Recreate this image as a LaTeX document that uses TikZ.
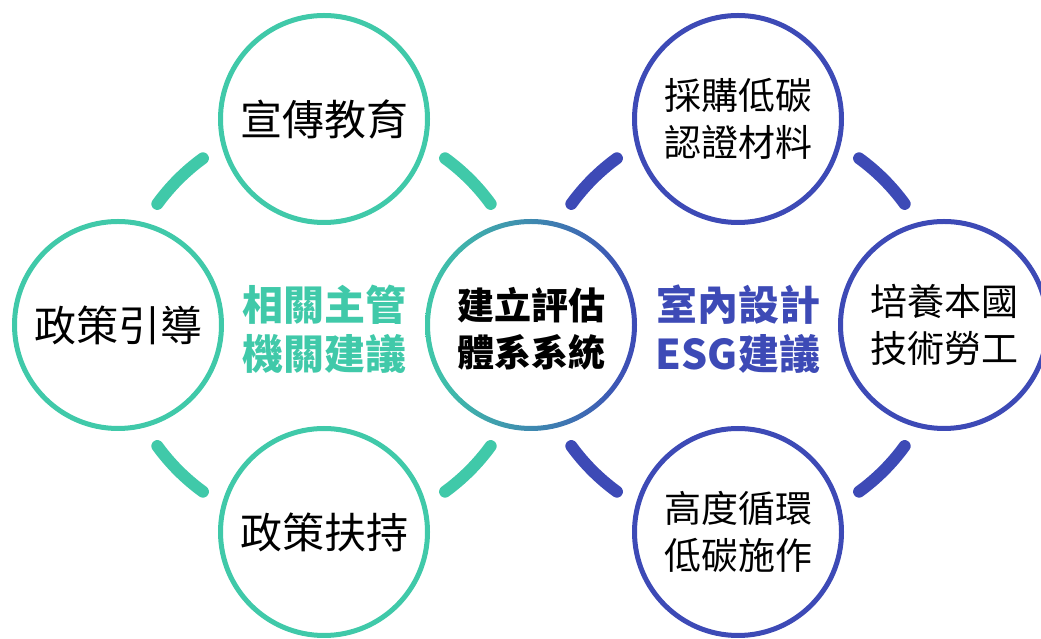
\documentclass[tikz,border=0pt]{standalone}
\usepackage{fontspec}
\setmainfont{Noto Sans CJK TC}
\usepackage{tikz}
\usetikzlibrary{calc}
\definecolor{mint}{HTML}{40C9A9}
\definecolor{indigo}{HTML}{3D4AB6}

\begin{document}
\begin{tikzpicture}[x=1pt, y=1pt,
  ring/.style={circle, draw, line width=5pt, minimum size=207pt, inner sep=0pt,
    align=center, font=\fontsize{42}{50}\selectfont},
  ringtwo/.style={ring, font=\fontsize{37}{47}\selectfont},
  link/.style={line width=12pt, line cap=round},
  tag/.style={align=center, font=\bfseries\fontsize{41}{49}\selectfont}]
  \useasboundingbox (0,0) rectangle (1041,639);

  \coordinate (L) at (324,314);
  \coordinate (R) at (738,314);
  \coordinate (C) at ($(L)!0.5!(R)$);

  \node[ring, draw=mint] (promo) at ($(L)+(0,206)$) {宣傳教育};
  \node[ring, draw=mint] (guide) at ($(L)+(-206,0)$) {政策引導};
  \node[ring, draw=mint] (support) at ($(L)+(0,-207)$) {政策扶持};
  \node[tag, text=mint] (agency) at ($(L)+(0,-4)$) {相關主管\\機關建議};

  \node[ringtwo, draw=indigo] (buy) at ($(R)+(0,206)$) {採購低碳\\認證材料};
  \node[ringtwo, draw=indigo] (labor) at ($(R)+(206,0)$) {培養本國\\技術勞工};
  \node[ringtwo, draw=indigo] (cycle) at ($(R)+(0,-207)$) {高度循環\\低碳施作};
  \node[tag, text=indigo] (esg) at ($(R)+(0,-4)$) {室內設計\\ESG建議};

  \shade[left color=mint, right color=indigo, even odd rule]
    (C) circle[radius=106] (C) circle[radius=101];
  \node[tag, font=\bfseries\fontsize{37}{47}\selectfont] (core) at ($(C)+(0,-4)$) {建立評估\\體系系統};

  \foreach \a in {45,135,225,315} {
    \draw[link, mint] ([shift={(\a-9:206)}]L) arc[start angle=\a-9, end angle=\a+9, radius=206];
    \draw[link, indigo] ([shift={(\a-9:206)}]R) arc[start angle=\a-9, end angle=\a+9, radius=206];
  }
\end{tikzpicture}
\end{document}
